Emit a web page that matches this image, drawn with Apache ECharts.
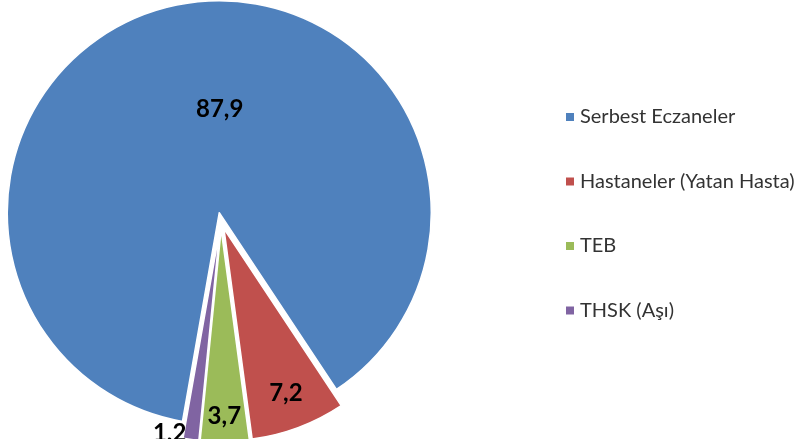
<!DOCTYPE html>
<html>
<head>
<meta charset="utf-8">
<script src="https://cdn.jsdelivr.net/npm/echarts@6/dist/echarts.min.js"></script>
<style>
  html, body { margin: 0; padding: 0; background: #fff; }
  #pieChart { width: 796px; height: 439px; }
</style>
</head>
<body>
<div id="pieChart"></div>
<script>
// data
const categories = ['Serbest Eczaneler', 'Hastaneler (Yatan Hasta)', 'TEB', 'THSK (Aşı)']
const values = [87.9, 7.2, 3.7, 1.2]
const colors = ['#4F81BD', '#C0504D', '#9BBB59', '#8064A2']

// pie geometry
const CX = 221
const CY = 221
const R = 212
const START = 260      // first slice starts 10deg left of 6 o'clock
const OFFSET = 8.5     // explosion
// where each value label sits: fraction of the radius, and a small clockwise turn (deg)
const labelRadius = [0.49, 0.83, 0.88, 0.99]
const labelTurn = [12, 0, 0, 6]

// mid angle of every slice, degrees counter-clockwise from 3 o'clock
const total = values.reduce((a, b) => a + b, 0)
const midAngles = []
let a0 = START
values.forEach((v) => {
  const span = v / total * 360
  midAngles.push(a0 - span / 2)
  a0 -= span
})

// value label point as [radius / R, angle clockwise from 12 o'clock] around the pie center,
// taking the explosion of its slice into account
function labelPoint(i) {
  const mid = midAngles[i] * Math.PI / 180
  const la = (midAngles[i] - labelTurn[i]) * Math.PI / 180
  const dx = OFFSET * Math.cos(mid) + labelRadius[i] * R * Math.cos(la)
  const dy = -OFFSET * Math.sin(mid) - labelRadius[i] * R * Math.sin(la)
  let ang = Math.atan2(dx, -dy) * 180 / Math.PI
  if (ang < 0) ang += 360
  return [Math.sqrt(dx * dx + dy * dy) / R, ang]
}

const myChart = echarts.init(document.getElementById('pieChart'))
const option = {
  animation: false,
  color: colors,
  legend: {
    orient: 'vertical',
    left: 564,
    top: 107,
    padding: 0,
    icon: 'rect',
    itemWidth: 10,
    itemHeight: 10,
    itemGap: 44.5,
    selectedMode: false,
    textStyle: {
      fontFamily: 'Lato',
      fontSize: 20,
      lineHeight: 20,
      color: '#333',
    },
    data: categories,
  },
  // hidden polar frame, only used to place the value labels
  polar: { center: [CX, CY], radius: R * 1.5 },
  angleAxis: { type: 'value', min: 0, max: 360, startAngle: 90, clockwise: true, show: false },
  radiusAxis: { type: 'value', min: 0, max: 1.5, show: false },
  series: [
    {
      type: 'pie',
      center: [CX, CY],
      radius: [0, R],
      startAngle: START,
      clockwise: true,
      selectedMode: 'multiple',
      selectedOffset: OFFSET,
      emphasis: { disabled: true },
      itemStyle: { borderColor: '#fff', borderWidth: 1.5 },
      select: { itemStyle: { borderColor: '#fff', borderWidth: 1.5 } },
      label: { show: false },
      labelLine: { show: false },
      data: categories.map((name, i) => ({ name: name, value: values[i], selected: true })),
    },
    {
      type: 'scatter',
      coordinateSystem: 'polar',
      silent: true,
      symbolSize: 1,
      itemStyle: { color: 'rgba(0,0,0,0)' },
      label: {
        show: true,
        position: 'inside',
        fontFamily: 'Lato',
        fontWeight: 'bold',
        fontSize: 24,
        color: '#000',
        opacity: 1,
        formatter: (p) => String(values[p.dataIndex]).replace('.', ','),
      },
      data: values.map((v, i) => labelPoint(i)),
    },
  ],
}
myChart.setOption(option)
</script>
</body>
</html>
